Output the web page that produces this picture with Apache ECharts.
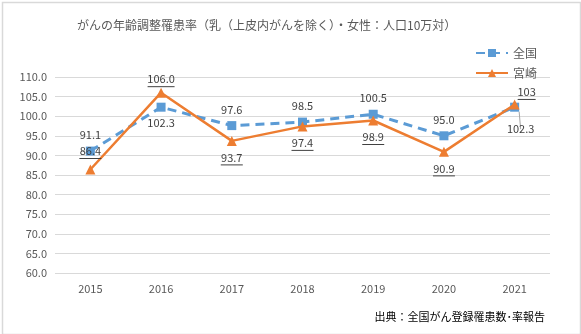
<!DOCTYPE html>
<html>
<head>
<meta charset="utf-8">
<script src="https://cdn.jsdelivr.net/npm/echarts@6/dist/echarts.min.js"></script>
<style>
  html, body { margin: 0; padding: 0; background: #fff; }
  #chart { width: 581px; height: 334px; }
</style>
</head>
<body>
<div id="chart"></div>
<script>
// 年次
const years = ['2015', '2016', '2017', '2018', '2019', '2020', '2021'];
// 全国（表示用の文字列とそこから作る数値）
const zenkokuText = ['91.1', '102.3', '97.6', '98.5', '100.5', '95.0', '102.3'];
// 宮崎
const miyazakiText = ['86.4', '106.0', '93.7', '97.4', '98.9', '90.9', '103'];
// ラベル位置（上 / 下）
const zenkokuPos = ['top', 'bottom', 'top', 'top', 'top', 'top', 'bottom'];
const miyazakiPos = ['top', 'top', 'bottom', 'bottom', 'bottom', 'bottom', 'top'];

const zenkoku = zenkokuText.map(Number);
const miyazaki = miyazakiText.map(Number);

const FONT = '"Noto Sans CJK JP", "Noto Sans", sans-serif';
const TXT = '#404040';
const BLUE = '#5B9BD5';
const ORANGE = '#ED7D31';

const chart = echarts.init(document.getElementById('chart'), null, { renderer: 'canvas' });

const zenkokuData = zenkoku.map((v, i) => {
  const item = { value: v, label: { position: zenkokuPos[i] } };
  if (i === 6) {
    item.label = { position: 'bottom', offset: [6, 6] };
    item.labelLine = { show: true, lineStyle: { color: '#a6a6a6', width: 1 } };
  }
  return item;
});

const miyazakiData = miyazaki.map((v, i) => {
  const item = { value: v, label: { position: miyazakiPos[i] } };
  if (i === 1) item.label.offset = [0, 5];
  if (i === 6) item.label.offset = [12, 6];
  return item;
});

const uline = (w) => ({ width: w, height: 1, lineHeight: 2, backgroundColor: TXT });

chart.setOption({
  animation: false,
  textStyle: { fontFamily: FONT },
  title: {
    text: 'がんの年齢調整罹患率（乳（上皮内がんを除く）・女性：人口10万対）',
    left: 72,
    top: 14,
    textStyle: { fontSize: 12, fontWeight: 'normal', color: '#595959', fontFamily: FONT }
  },
  legend: {
    orient: 'vertical',
    left: 470,
    top: 42,
    itemWidth: 32,
    itemHeight: 10,
    itemGap: 8,
    textStyle: { fontSize: 12, color: '#595959', fontFamily: FONT },
    data: ['全国', '宮崎']
  },
  grid: { left: 55, right: 31, top: 77, bottom: 61 },
  xAxis: {
    type: 'category',
    data: years,
    boundaryGap: true,
    axisLine: { show: false },
    axisTick: { show: false },
    axisLabel: { color: '#595959', fontSize: 11, margin: 10, fontFamily: FONT }
  },
  yAxis: {
    type: 'value',
    min: 60,
    max: 110,
    interval: 5,
    axisLine: { show: false },
    axisTick: { show: false },
    splitLine: { lineStyle: { color: '#d9d9d9', width: 1 } },
    axisLabel: {
      color: '#595959',
      fontSize: 11,
      margin: 8,
      fontFamily: FONT,
      formatter: (v) => v.toFixed(1)
    }
  },
  series: [
    {
      name: '全国',
      type: 'line',
      data: zenkokuData,
      symbol: 'rect',
      symbolSize: 9,
      lineStyle: { color: BLUE, width: 3, type: [9, 6] },
      itemStyle: { color: BLUE },
      label: {
        show: true,
        distance: 6,
        color: TXT,
        fontSize: 11,
        fontFamily: FONT,
        formatter: (p) => zenkokuText[p.dataIndex]
      },
      z: 2
    },
    {
      name: '宮崎',
      type: 'line',
      data: miyazakiData,
      symbol: 'triangle',
      symbolSize: 10,
      lineStyle: { color: ORANGE, width: 2.5 },
      itemStyle: { color: ORANGE },
      label: {
        show: true,
        distance: 5,
        color: TXT,
        fontSize: 11,
        fontFamily: FONT,
        formatter: (p) => {
          const t = miyazakiText[p.dataIndex];
          return '{v|' + t + '}\n{u' + t.length + '|}';
        },
        rich: {
          v: { color: TXT, fontSize: 11, fontFamily: FONT, lineHeight: 13 },
          u3: uline(18),
          u4: uline(22),
          u5: uline(27)
        }
      },
      z: 3
    }
  ],
  graphic: [
    {
      type: 'rect',
      left: 0,
      top: 0,
      shape: { x: 0, y: 0, width: 578, height: 332 },
      style: { fill: 'none', stroke: '#d9d9d9', lineWidth: 1.5 },
      silent: true
    },
    {
      type: 'text',
      right: 36,
      top: 311,
      style: {
        text: '出典：全国がん登録罹患数･率報告',
        fill: '#000',
        font: '11px ' + FONT
      }
    }
  ]
});
</script>
</body>
</html>
